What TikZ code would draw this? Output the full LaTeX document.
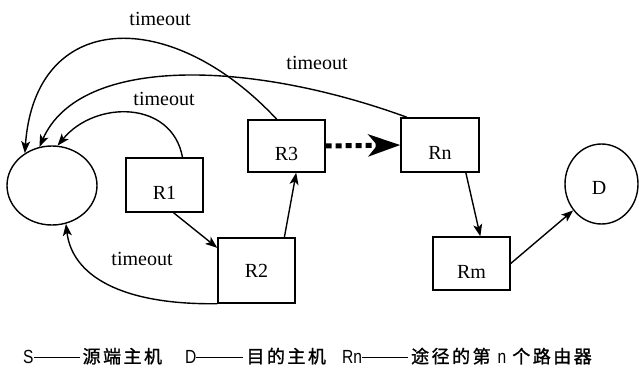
\documentclass[tikz,border=0pt]{standalone}
\usepackage{fontspec}
\setmainfont{Liberation Serif}
\newfontfamily\capsans[FakeStretch=0.82]{Liberation Sans}
\newfontfamily\cjk[FakeBold=1.2]{Noto Sans CJK SC}
\usetikzlibrary{arrows.meta,shapes.geometric}
\newcommand\cjsp{\hspace{2.5pt}}
\newcommand\capdash[1]{\rule[5pt]{#1}{0.8pt}}
\tikzset{
  router/.style={draw,line width=1.4pt,rectangle,inner sep=0pt,minimum width=77pt},
  host/.style={draw,line width=1.4pt,ellipse,inner sep=0pt},
  conn/.style={line width=1.4pt,-{Stealth[length=12pt,width=9pt,inset=3pt]}},
  lbl/.style={font=\fontsize{20}{24}\selectfont,inner sep=0pt},
  captext/.style={anchor=base west,inner sep=0pt,font=\capsans\fontsize{19}{21}\selectfont},
}
\begin{document}
\begin{tikzpicture}[x=1pt,y=-1pt]
\useasboundingbox (0,0) rectangle (639,367);
% hosts
\node[host,minimum width=90pt,minimum height=79pt] (S) at (52,185.5) {};
\node[host,minimum width=73pt,minimum height=80pt] (D) at (601.5,184) {};
\node[lbl] (Dt) at (599,188) {D};
% routers
\node[router,minimum height=54pt] (R1) at (164.5,185) {};
\node[router,minimum height=65pt] (R2) at (256.5,270.5) {};
\node[router,minimum height=52pt] (R3) at (286.5,146) {};
\node[router,minimum width=78pt,minimum height=54pt] (Rn) at (440,145) {};
\node[router,minimum height=53pt] (Rm) at (471.5,263.5) {};
\node[lbl] (R1t) at (164.5,192.5) {R1};
\node[lbl] (R2t) at (256.5,270.5) {R2};
\node[lbl] (R3t) at (286.5,153.5) {R3};
\node[lbl] (Rnt) at (440,153) {Rn};
\node[lbl] (Rmt) at (471.5,271.5) {Rm};
% forward path
\draw[conn] (R1.-72) -- (R2.150);
\draw[conn] (R2.50) -- (R3.-70);
\draw[line width=5pt,dash pattern=on 6pt off 4pt,-{Stealth[length=32pt,width=22pt,inset=9pt]}] (R3.east) -- (Rn.west);
\draw[conn] (Rn.-47) -- (Rm.72);
\draw[conn] (Rm.east) -- (D.223);
% timeouts
\draw[conn] (R1.57) .. controls (172,100) and (95,100) .. (S.82);
\draw[conn] (R3.110) .. controls (170,5) and (35,10) .. (S.130);
\draw[conn] (Rn.140) .. controls (250,60) and (80,55) .. (S.108);
\draw[conn] (R2.south west) .. controls (120,305) and (72,275) .. (S.-70);
\node[lbl] (t1) at (160,18.5) {timeout};
\node[lbl] (t2) at (164,98.5) {timeout};
\node[lbl] (t3) at (317,63) {timeout};
\node[lbl] (t4) at (142,258.5) {timeout};
% caption
\node[captext] (c1) at (23,363) {S\capdash{46pt}\hspace{3pt}{\cjk\fontsize{18}{20}\selectfont 源\cjsp 端\cjsp 主\cjsp 机}};
\node[captext] (c2) at (185,363) {D\capdash{47pt}\hspace{3pt}{\cjk\fontsize{18}{20}\selectfont 目\cjsp 的\cjsp 主\cjsp 机}};
\node[captext] (c3) at (342,363) {Rn\capdash{46pt}\hspace{3pt}{\cjk\fontsize{18}{20}\selectfont 途\cjsp 径\cjsp 的\cjsp 第}\hspace{7pt}n\hspace{6pt}{\cjk\fontsize{18}{20}\selectfont 个\cjsp 路\cjsp 由\cjsp 器}};
\end{tikzpicture}
\end{document}
